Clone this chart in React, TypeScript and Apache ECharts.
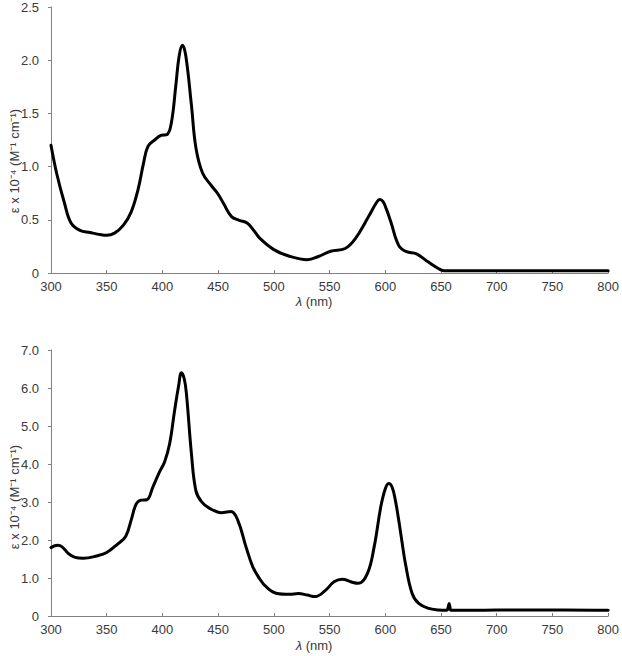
import React, { useEffect, useRef } from "react";
import * as echarts from "echarts";

// Top spectrum: wavelength (nm) and ε x 10^-4
const topWavelength = [300, 305, 312, 318, 326, 335, 345, 350, 357, 365, 372, 378, 383, 387, 393, 399, 404, 408, 412, 415, 418, 421, 426, 430, 436, 444, 450, 455, 462, 469, 476, 482, 488, 500, 514, 530, 540, 551, 564, 573, 585, 592, 595, 598, 601, 605, 612, 619, 628, 639, 648, 653, 680, 720, 760, 800];
const topEpsilon = [1.2, 0.94, 0.66, 0.47, 0.4, 0.38, 0.36, 0.355, 0.375, 0.45, 0.575, 0.78, 1.03, 1.19, 1.25, 1.295, 1.3, 1.41, 1.76, 2.04, 2.14, 2.04, 1.58, 1.18, 0.94, 0.82, 0.74, 0.65, 0.53, 0.495, 0.47, 0.4, 0.32, 0.22, 0.157, 0.125, 0.155, 0.205, 0.23, 0.32, 0.53, 0.66, 0.69, 0.67, 0.6, 0.48, 0.26, 0.2, 0.18, 0.1, 0.04, 0.02, 0.02, 0.02, 0.02, 0.02];

// Bottom spectrum
const bottomWavelength = [300, 306, 310, 315, 321, 329, 341, 350, 360, 367, 372, 376.5, 381, 386, 391.5, 397.5, 402, 406.5, 411, 414.5, 417, 419.5, 421.5, 426, 430, 435, 442, 453, 461.5, 467.5, 475, 481, 487, 493, 502, 514, 522, 530, 537, 546.5, 554, 561.5, 569, 576, 584, 590, 596, 600, 603, 606, 609, 612, 615, 618, 624, 630, 639, 648, 655, 656.5, 657.3, 658, 659, 680, 720, 760, 800];
const bottomEpsilon = [1.8, 1.86, 1.82, 1.66, 1.55, 1.52, 1.58, 1.67, 1.9, 2.09, 2.53, 2.95, 3.05, 3.06, 3.4, 3.8, 4.06, 4.54, 5.42, 6.05, 6.4, 6.25, 5.86, 4.28, 3.3, 3.01, 2.84, 2.72, 2.75, 2.53, 1.82, 1.3, 0.99, 0.77, 0.6, 0.57, 0.59, 0.55, 0.51, 0.68, 0.9, 0.97, 0.9, 0.86, 1.12, 1.82, 2.88, 3.35, 3.49, 3.4, 3.05, 2.53, 1.95, 1.39, 0.6, 0.33, 0.2, 0.16, 0.15, 0.24, 0.33, 0.24, 0.15, 0.15, 0.16, 0.16, 0.15];

const xTicks = { min: 300, max: 800, interval: 50 };
const topY = { min: 0, max: 2.5, interval: 0.5 };
const bottomY = { min: 0, max: 7, interval: 1 };

const yTitle = "ε x 10⁻⁴ (M⁻¹ cm⁻¹)";
const xTitle = "{i|λ} (nm)";

const FONT = "'Liberation Sans', Arial, sans-serif";
const TEXT_COLOR = "#3a3a3a";
const AXIS_COLOR = "#808080";

export default function App() {
  const ref = useRef<HTMLDivElement>(null);

  useEffect(() => {
    document.body.style.margin = "0";
    if (!ref.current) return;
    const chart = echarts.init(ref.current, null, { renderer: "svg" });

    const makeX = (gridIndex: number) => ({
      type: "value",
      gridIndex,
      min: xTicks.min,
      max: xTicks.max,
      interval: xTicks.interval,
      axisLine: { show: true, onZero: false, lineStyle: { color: AXIS_COLOR, width: 1 } },
      axisTick: { show: true, inside: true, length: 3, lineStyle: { color: AXIS_COLOR } },
      axisLabel: { color: TEXT_COLOR, fontSize: 13, fontFamily: FONT, margin: 7 },
      splitLine: { show: false },
    });
    const makeY = (gridIndex: number, cfg: { min: number; max: number; interval: number }) => ({
      type: "value",
      gridIndex,
      min: cfg.min,
      max: cfg.max,
      interval: cfg.interval,
      axisLine: { show: true, lineStyle: { color: AXIS_COLOR, width: 1 } },
      axisTick: { show: true, inside: false, length: 3, lineStyle: { color: AXIS_COLOR } },
      axisLabel: {
        color: TEXT_COLOR,
        fontSize: 13,
        fontFamily: FONT,
        margin: 12,
        formatter: (v: number) => (v === 0 ? "0" : v.toFixed(1)),
      },
      splitLine: { show: false },
    });

    const titleStyle = { fontSize: 13, fontFamily: FONT, fill: TEXT_COLOR, align: "center", verticalAlign: "middle" };
    const richItalic = { i: { fontStyle: "italic", fontSize: 13, fontFamily: FONT, fill: TEXT_COLOR } };

    chart.setOption({
      animation: false,
      grid: [
        { left: 51, top: 7, width: 559, height: 266 },
        { left: 51, top: 350, width: 559, height: 266 },
      ],
      xAxis: [makeX(0), makeX(1)],
      yAxis: [makeY(0, topY), makeY(1, bottomY)],
      series: [
        {
          type: "line",
          xAxisIndex: 0,
          yAxisIndex: 0,
          data: topWavelength.map((w, i) => [w, topEpsilon[i]]),
          showSymbol: false,
          smooth: 0.4,
          lineStyle: { color: "#000", width: 3, join: "round", cap: "round" },
          itemStyle: { color: "#000" },
        },
        {
          type: "line",
          xAxisIndex: 1,
          yAxisIndex: 1,
          data: bottomWavelength.map((w, i) => [w, bottomEpsilon[i]]),
          showSymbol: false,
          smooth: 0.4,
          lineStyle: { color: "#000", width: 3, join: "round", cap: "round" },
          itemStyle: { color: "#000" },
        },
      ],
      graphic: [
        { type: "text", x: 14, y: 161, rotation: Math.PI / 2, style: { ...titleStyle, text: yTitle } },
        { type: "text", x: 14, y: 497, rotation: Math.PI / 2, style: { ...titleStyle, text: yTitle } },
        { type: "text", x: 314, y: 301.5, style: { ...titleStyle, text: xTitle, rich: richItalic } },
        { type: "text", x: 314, y: 645, style: { ...titleStyle, text: xTitle, rich: richItalic } },
      ],
    });

    return () => chart.dispose();
  }, []);

  return <div ref={ref} style={{ position: "absolute", left: 0, top: 0, width: 622, height: 656 }} />;
}
